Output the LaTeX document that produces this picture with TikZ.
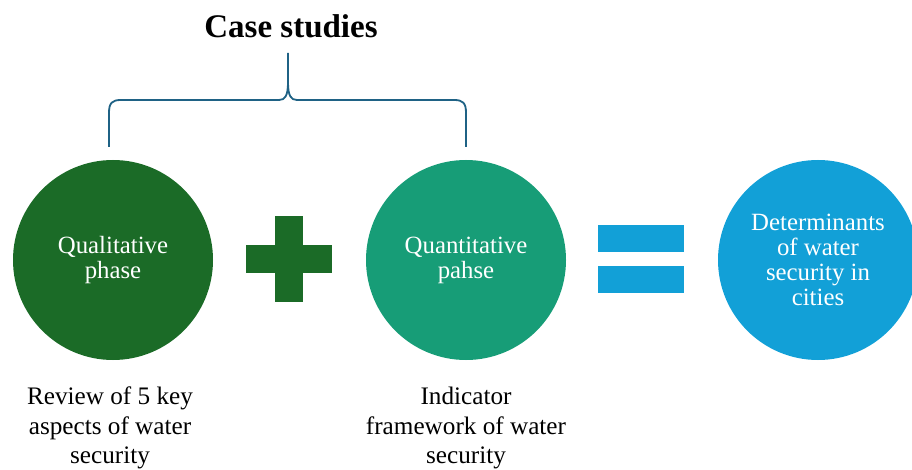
\documentclass[tikz,border=0pt]{standalone}
\usepackage{fontspec}
\setmainfont{Liberation Serif}
\definecolor{dgreen}{HTML}{1B6B27}
\definecolor{tgreen}{HTML}{179D77}
\definecolor{sblue}{HTML}{12A0D7}
\definecolor{brace}{HTML}{1F6285}
\begin{document}
\begin{tikzpicture}[x=1pt,y=-1pt,
  phase/.style={circle,minimum size=200pt,inner sep=0pt,align=center,text=white,
    font=\fontsize{24.8}{25}\selectfont},
  caption/.style={align=center,font=\fontsize{25.2}{29.5}\selectfont},
  sym/.style={inner sep=0pt,draw=none}]
\useasboundingbox (0,0) rectangle (912,470);
\node[phase,fill=dgreen] (c1) at (113,260) {Qualitative\\phase};
\node[phase,fill=tgreen] (c2) at (466,260) {Quantitative\\pahse};
\node[phase,fill=sblue] (c3) at (818,260) {Determinants\\of water\\security in\\cities};
% plus
\coordinate (plus) at (289,259);
\fill[dgreen] (275,216) rectangle (303,302);
\fill[dgreen] (246,245) rectangle (332,273);
% equals
\coordinate (eq) at (641,259);
\fill[sblue] (598,225) rectangle (684,252);
\fill[sblue] (598,266) rectangle (684,293);
% title and brace
\node[font=\fontsize{33}{36}\selectfont\bfseries,anchor=base] (title) at (291,38) {Case studies};
\coordinate (bl) at (109,147);
\coordinate (br) at (466,147);
\coordinate (tip) at (288,53);
\draw[brace,line width=1.8pt,line join=round]
  (bl) -- (109,113) .. controls (109,103) and (112,100) .. (121,100) -- (279,100)
  .. controls (285,100) and (288,96) .. (288,82) -- (tip);
\draw[brace,line width=1.8pt,line join=round]
  (br) -- (466,113) .. controls (466,103) and (463,100) .. (454,100) -- (297,100)
  .. controls (291,100) and (288,96) .. (288,82);
% captions
\node[caption] (t1) at (110,428) {Review of 5 key\\aspects of water\\security};
\node[caption] (t2) at (466,428) {Indicator\\framework of water\\security};
\end{tikzpicture}
\end{document}
